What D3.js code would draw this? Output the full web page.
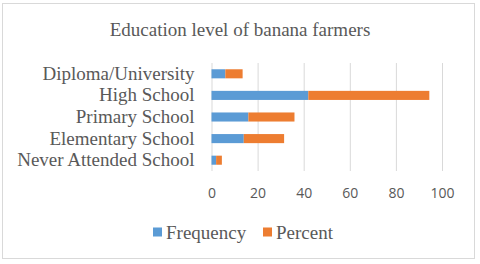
<!DOCTYPE html>
<html>
<head>
<meta charset="utf-8">
<script src="https://cdn.jsdelivr.net/npm/d3@7"></script>
<style>
  body { margin: 0; background: #fff; }
  svg { display: block; }
</style>
</head>
<body>
<svg></svg>
<script>
var width = 480;
var height = 264;

// data
var categories = ["Diploma/University", "High School", "Primary School", "Elementary School", "Never Attended School"];
var frequency = [6, 42, 16, 14, 2];
var percent = [7.5, 52.5, 20, 17.5, 2.5];
var seriesNames = ["Frequency", "Percent"];
var seriesColors = ["#5b9bd5", "#ed7d31"];
var xTicks = [0, 20, 40, 60, 80, 100];

var rows = categories.map((c, i) => ({cat: c, Frequency: frequency[i], Percent: percent[i]}));
var stacked = d3.stack().keys(seriesNames)(rows);

var plot = {left: 211.5, right: 442, top: 63, bottom: 171};

var xScale = d3.scaleLinear()
                .domain([0, 100])
                .range([plot.left, plot.right]);
var yScale = d3.scaleBand()
                .domain(categories)
                .range([plot.top, plot.bottom])
                .paddingInner(0.58)
                .paddingOuter(0.29);

var serif = "'Liberation Serif', 'Times New Roman', serif";

var svg = d3.select("svg")
    .attr("width", width)
    .attr("height", height);

// chart border
svg.append("rect")
    .attr("x", 2.5)
    .attr("y", 3.5)
    .attr("width", 472)
    .attr("height", 255)
    .attr("fill", "#fff")
    .attr("stroke", "#d9d9d9")
    .attr("stroke-width", 1);

svg.append("text")
    .attr("x", 240)
    .attr("y", 35.5)
    .attr("text-anchor", "middle")
    .attr("font-family", serif)
    .attr("font-size", 19)
    .attr("fill", "#595959")
    .text("Education level of banana farmers");

// vertical gridlines + tick labels
var xAxis = d3.axisBottom(xScale)
                .tickValues(xTicks)
                .tickSize(-(plot.bottom - plot.top))
                .tickSizeOuter(0)
                .tickPadding(17);

var gx = svg.append("g")
    .attr("transform", `translate(0, ${plot.bottom})`)
    .call(xAxis);
gx.select(".domain").remove();
gx.selectAll(".tick line").attr("stroke", "#d9d9d9");
gx.selectAll(".tick text")
    .attr("fill", "#595959")
    .attr("font-family", "'Open Sans', Carlito, sans-serif")
    .attr("font-size", 14);

// category labels
var yAxis = d3.axisLeft(yScale).tickSize(0).tickPadding(17);
var gy = svg.append("g")
    .attr("transform", `translate(${plot.left}, 0)`)
    .call(yAxis);
gy.select(".domain").remove();
gy.selectAll(".tick text")
    .attr("fill", "#595959")
    .attr("font-family", serif)
    .attr("font-size", 19);

// stacked bars
svg.append("g")
    .selectAll("g")
    .data(stacked)
    .enter()
    .append("g")
    .attr("fill", (d, i) => seriesColors[i])
        .selectAll("rect")
        .data(d => d)
        .enter()
        .append("rect")
    .attr("x", d => xScale(d[0]))
    .attr("y", d => yScale(d.data.cat))
    .attr("width", d => xScale(d[1]) - xScale(d[0]))
    .attr("height", yScale.bandwidth());

// legend
var legendX = [153, 263];
var legend = svg.append("g")
    .selectAll("g")
    .data(seriesNames)
    .enter()
    .append("g")
    .attr("transform", (d, i) => `translate(${legendX[i]}, 232)`);
legend.append("rect")
    .attr("x", 0)
    .attr("y", -4.5)
    .attr("width", 9)
    .attr("height", 9)
    .attr("fill", (d, i) => seriesColors[i]);
legend.append("text")
    .attr("x", 13)
    .attr("y", 0)
    .attr("dy", "0.35em")
    .attr("font-family", serif)
    .attr("font-size", 19)
    .attr("fill", "#595959")
    .text(d => d);
</script>
</body>
</html>
